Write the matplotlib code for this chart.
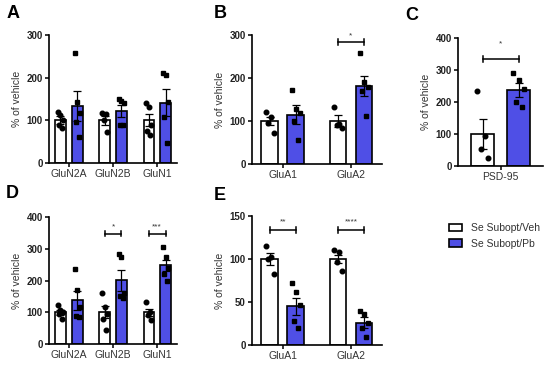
import numpy as np
import matplotlib
matplotlib.use('Agg')
import matplotlib.pyplot as plt
from matplotlib.patches import Patch

plt.rcParams['font.family'] = ['Liberation Sans', 'DejaVu Sans']

veh_color = 'white'
pb_color = '#4F4FE6'

# Panel A - NMDA subunits
a_labels = ['GluN2A', 'GluN2B', 'GluN1']
a_veh_mean = [100, 100, 100]
a_veh_sem = [9, 10, 14]
a_pb_mean = [134, 122, 141]
a_pb_sem = [35, 14, 32]
a_veh_pts = [[120, 112, 100, 89, 81], [117, 116, 100, 73], [141, 131, 88, 76, 66]]
a_pb_pts = [[258, 144, 118, 96, 61], [149, 145, 141, 89, 89], [211, 206, 144, 107, 47]]

# Panel B - AMPA subunits
b_labels = ['GluA1', 'GluA2']
b_veh_mean = [100, 100]
b_veh_sem = [10, 14]
b_pb_mean = [115, 182]
b_pb_sem = [22, 23]
b_veh_pts = [[122, 110, 95, 73], [133, 93, 90, 84]]
b_pb_pts = [[172, 128, 118, 100, 57], [258, 190, 180, 170, 112]]

# Panel C - PSD-95
c_labels = ['PSD-95']
c_veh_mean = [100]
c_veh_sem = [47]
c_pb_mean = [237]
c_pb_sem = [22]
c_veh_pts = [[233, 95, 54, 26]]
c_pb_pts = [[290, 270, 240, 200, 185]]

# Panel D
d_labels = ['GluN2A', 'GluN2B', 'GluN1']
d_veh_mean = [100, 100, 100]
d_veh_sem = [7, 19, 12]
d_pb_mean = [138, 201, 248]
d_pb_sem = [30, 33, 17]
d_veh_pts = [[122, 106, 100, 96, 78], [162, 118, 96, 80, 44], [133, 100, 92, 77]]
d_pb_pts = [[238, 170, 118, 88, 86], [283, 275, 160, 150, 145], [305, 275, 240, 222, 200]]

# Panel E
e_labels = ['GluA1', 'GluA2']
e_veh_mean = [100, 100]
e_veh_sem = [7, 5]
e_pb_mean = [45, 26]
e_pb_sem = [10, 6]
e_veh_pts = [[115, 102, 100, 82], [110, 108, 96, 86]]
e_pb_pts = [[72, 61, 47, 28, 20], [39, 36, 26, 20, 9]]

off = 0.19
bw = 0.24


def jitter(n):
    return np.linspace(-0.06, 0.06, n)[np.argsort(np.arange(n) % 2)]


def draw_panel(ax, labels, vm, vs, pm, ps, vp, pp, ymax, yticks):
    x = np.arange(len(labels))
    ax.bar(x - off, vm, width=bw, color=veh_color, edgecolor='black', linewidth=1.2, zorder=2)
    ax.bar(x + off, pm, width=bw, color=pb_color, edgecolor='black', linewidth=1.2, zorder=2)
    ax.errorbar(x - off, vm, yerr=vs, fmt='none', ecolor='black', elinewidth=0.9, capsize=3, capthick=0.9, zorder=3)
    ax.errorbar(x + off, pm, yerr=ps, fmt='none', ecolor='black', elinewidth=0.9, capsize=3, capthick=0.9, zorder=3)
    for i in range(len(labels)):
        ax.plot(x[i] - off + jitter(len(vp[i])), vp[i], 'o', color='black', ms=3.3, zorder=4, clip_on=False)
        ax.plot(x[i] + off + jitter(len(pp[i])), pp[i], 's', color='black', ms=3.3, zorder=4, clip_on=False)
    ax.set_xlim(-0.45, len(labels) - 0.55)
    ax.set_ylim(0, ymax)
    ax.set_yticks(yticks)
    ax.set_xticks(x)
    ax.set_xticklabels(labels, fontsize=7.5, color='#333333')
    for t in ax.get_yticklabels():
        t.set_fontsize(7)
        t.set_fontweight('bold')
        t.set_color('#222222')
    ax.set_ylabel('% of vehicle', fontsize=7.5, color='#333333', labelpad=3)
    ax.spines['top'].set_visible(False)
    ax.spines['right'].set_visible(False)
    ax.spines['left'].set_linewidth(1.2)
    ax.spines['bottom'].set_linewidth(1.2)
    ax.tick_params(axis='both', length=3, width=1.1, pad=1.5)


def sig(ax, i, y, ystar, txt, h):
    x1, x2 = i - off, i + off
    ax.plot([x1, x2], [y, y], color='black', lw=1.1, zorder=3)
    ax.plot([x1, x1], [y - h, y + h], color='black', lw=1.1, zorder=3)
    ax.plot([x2, x2], [y - h, y + h], color='black', lw=1.1, zorder=3)
    ax.text(i, ystar, txt, ha='center', va='center', fontsize=6, color='#333333')


fig = plt.figure(figsize=(5.5, 3.68), dpi=100)

ax_a = fig.add_axes([0.089, 0.557, 0.233, 0.348])
ax_b = fig.add_axes([0.458, 0.554, 0.236, 0.351])
ax_c = fig.add_axes([0.833, 0.549, 0.155, 0.348])
ax_d = fig.add_axes([0.089, 0.065, 0.233, 0.345])
ax_e = fig.add_axes([0.458, 0.0625, 0.236, 0.351])

draw_panel(ax_a, a_labels, a_veh_mean, a_veh_sem, a_pb_mean, a_pb_sem, a_veh_pts, a_pb_pts, 300, [0, 100, 200, 300])
draw_panel(ax_b, b_labels, b_veh_mean, b_veh_sem, b_pb_mean, b_pb_sem, b_veh_pts, b_pb_pts, 300, [0, 100, 200, 300])
draw_panel(ax_c, c_labels, c_veh_mean, c_veh_sem, c_pb_mean, c_pb_sem, c_veh_pts, c_pb_pts, 400, [0, 100, 200, 300, 400])
draw_panel(ax_d, d_labels, d_veh_mean, d_veh_sem, d_pb_mean, d_pb_sem, d_veh_pts, d_pb_pts, 400, [0, 100, 200, 300, 400])
draw_panel(ax_e, e_labels, e_veh_mean, e_veh_sem, e_pb_mean, e_pb_sem, e_veh_pts, e_pb_pts, 150, [0, 50, 100, 150])

sig(ax_b, 1, 284, 297, '*', 7)
sig(ax_c, 0, 335, 382, '*', 9)
sig(ax_d, 1, 348, 368, '*', 9)
sig(ax_d, 2, 348, 368, '***', 9)
sig(ax_e, 0, 134, 143, '**', 3.5)
sig(ax_e, 1, 134, 143, '****', 3.5)

for lab, px, py in [('A', 13, 13), ('B', 220, 13), ('C', 412, 15), ('D', 12, 193), ('E', 220, 195)]:
    fig.text(px / 550, 1 - py / 368, lab, fontsize=13, fontweight='bold', ha='center', va='center')

handles = [Patch(facecolor=veh_color, edgecolor='black', linewidth=1.2, label='Se Subopt/Veh'),
           Patch(facecolor=pb_color, edgecolor='black', linewidth=1.2, label='Se Subopt/Pb')]
fig.legend(handles=handles, loc='upper left', bbox_to_anchor=(440 / 550, 1 - 214 / 368), frameon=False,
           fontsize=7.5, handlelength=1.25, handleheight=0.7, handletextpad=0.8, labelspacing=0.5,
           labelcolor='#333333')

fig.savefig('out.png', dpi=100)
